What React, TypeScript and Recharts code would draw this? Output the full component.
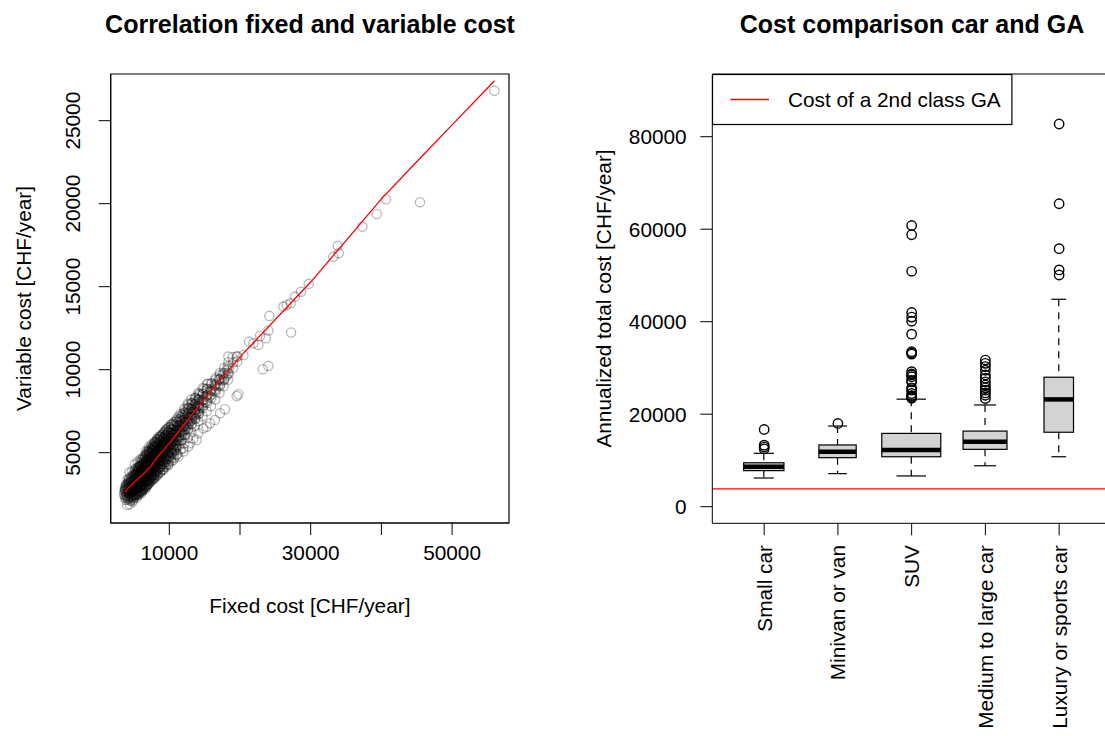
import React from 'react';
import {
  ScatterChart,
  ComposedChart,
  Scatter,
  Bar,
  XAxis,
  YAxis,
  ReferenceArea,
  ReferenceLine,
  Legend,
} from 'recharts';

const FONT = '"Liberation Sans", Arial, Helvetica, sans-serif';
const TEXT = 20.8;
const INK = '#000';

// fixed vs variable cost per car [CHF/year]: the dense cloud of ordinary cars
const coreCars: [number, number][] = [
  [3580, 2500], [3650, 2700], [3720, 2900],
  [3800, 2300], [3760, 2650], [3850, 2850], [3900, 3050],
  [4050, 1850], [3980, 2400], [4020, 2700], [4100, 3100],
  [4180, 2150], [4250, 2500], [4150, 2800], [4300, 3000], [4220, 3250],
  [4400, 1900], [4450, 2350], [4350, 2600], [4480, 2950], [4420, 3300],
  [4600, 2200], [4650, 2450], [4550, 2750], [4700, 3050], [4580, 3400],
  [4800, 2050], [4850, 2300], [4750, 2600], [4900, 2900], [4780, 3200], [4820, 3550],
  [5000, 2250], [5080, 2500], [4950, 2800], [5050, 3100], [4980, 3400], [5100, 3700],
  [5200, 2400], [5250, 2700], [5150, 2950], [5300, 3250], [5180, 3550], [5260, 3800],
  [5400, 2300], [5450, 2550], [5350, 2850], [5500, 3150], [5380, 3450], [5420, 3750], [5480, 3950],
  [5600, 2450], [5650, 2700], [5550, 3000], [5700, 3300], [5580, 3600], [5620, 3900], [5680, 4100],
  [5800, 2600], [5850, 2900], [5750, 3150], [5900, 3450], [5780, 3750], [5820, 4050], [5880, 4250],
  [6000, 2550], [6050, 2800], [5950, 3050], [6100, 3350], [5980, 3650], [6020, 3950], [6080, 4300],
  [6200, 2700], [6250, 2950], [6150, 3250], [6300, 3550], [6180, 3850], [6220, 4150], [6280, 4450],
  [6400, 2850], [6450, 3100], [6350, 3400], [6500, 3700], [6380, 4000], [6420, 4300], [6480, 4600],
  [6600, 2800], [6650, 3050], [6550, 3300], [6700, 3600], [6580, 3900], [6620, 4200], [6680, 4500], [6640, 4750],
  [6800, 2950], [6850, 3250], [6750, 3500], [6900, 3800], [6780, 4100], [6820, 4400], [6880, 4700], [6840, 4900],
  [7000, 3100], [7050, 3400], [6950, 3700], [7100, 4000], [6980, 4300], [7020, 4600], [7080, 4850], [7040, 5100],
  [7200, 3200], [7250, 3550], [7150, 3850], [7300, 4150], [7180, 4450], [7220, 4750], [7280, 5000],
  [7400, 3350], [7450, 3650], [7350, 3950], [7500, 4250], [7380, 4550], [7420, 4850], [7480, 5200],
  [7600, 3500], [7650, 3800], [7550, 4100], [7700, 4400], [7580, 4700], [7620, 5000], [7680, 5350],
  [7800, 3450], [7850, 3700], [7750, 4000], [7900, 4300], [7780, 4600], [7820, 4900], [7880, 5200], [7840, 5500],
  [8000, 3650], [8080, 3900], [7950, 4200], [8100, 4500], [7980, 4800], [8050, 5100], [8120, 5400], [8020, 5650],
  [8300, 3800], [8380, 4100], [8250, 4400], [8400, 4700], [8280, 5000], [8350, 5300], [8420, 5600], [8320, 5850],
  [8600, 4000], [8680, 4300], [8550, 4600], [8700, 4900], [8580, 5200], [8650, 5500], [8720, 5800], [8620, 6000],
  [8900, 4150], [8980, 4500], [8850, 4800], [9000, 5100], [8880, 5400], [8950, 5700], [9020, 6050],
  [9200, 4300], [9280, 4650], [9150, 5000], [9300, 5300], [9180, 5600], [9250, 5900], [9320, 6250],
  [9500, 4450], [9580, 4800], [9450, 5150], [9600, 5500], [9480, 5800], [9550, 6100], [9620, 6400],
  [9800, 4600], [9880, 5000], [9750, 5350], [9900, 5700], [9780, 6000], [9850, 6300],
  [10100, 4750], [10180, 5150], [10050, 5500], [10200, 5850], [10080, 6200], [10150, 6550],
  [10400, 4950], [10480, 5300], [10350, 5700], [10500, 6050], [10380, 6400], [10450, 6700],
  [10700, 5100], [10780, 5500], [10650, 5900], [10800, 6300], [10680, 6650],
  [11000, 5300], [11080, 5750], [10950, 6150], [11100, 6500], [10980, 6850],
];

// more ordinary cars, sitting between the ones above
const coreCarsMore: [number, number][] = [
  [3700, 2400], [3750, 2800], [3900, 2550], [3950, 2950], [4100, 2250], [4120, 2600], [4150, 2950],
  [4300, 2350], [4330, 2700], [4350, 3100], [4500, 2100], [4520, 2500], [4550, 2850], [4520, 3200],
  [4700, 2350], [4720, 2650], [4750, 2950], [4720, 3300], [4900, 2150], [4920, 2450], [4950, 2750],
  [4900, 3050], [4950, 3350], [5100, 2350], [5120, 2650], [5150, 2950], [5120, 3250], [5150, 3550],
  [5300, 2500], [5320, 2800], [5330, 3100], [5320, 3400], [5350, 3650], [5500, 2450], [5520, 2750],
  [5530, 3050], [5520, 3350], [5550, 3650], [5550, 3900], [5700, 2550], [5720, 2850], [5730, 3150],
  [5720, 3450], [5750, 3750], [5750, 4000], [5900, 2700], [5920, 3000], [5930, 3300], [5920, 3600],
  [5950, 3900], [5950, 4150], [6100, 2650], [6120, 2950], [6130, 3250], [6120, 3550], [6150, 3850],
  [6150, 4100], [6300, 2800], [6320, 3100], [6330, 3400], [6320, 3700], [6350, 4000], [6350, 4300],
  [6500, 2950], [6520, 3250], [6530, 3550], [6520, 3850], [6550, 4150], [6550, 4450], [6700, 3000],
  [6720, 3300], [6730, 3600], [6720, 3900], [6750, 4200], [6750, 4550], [6900, 3100], [6920, 3400],
  [6930, 3700], [6920, 4000], [6950, 4300], [6950, 4650], [7100, 3300], [7120, 3600], [7130, 3900],
  [7120, 4200], [7150, 4500], [7150, 4800], [7300, 3400], [7320, 3700], [7330, 4000], [7320, 4300],
  [7350, 4600], [7350, 4950], [7500, 3550], [7520, 3850], [7530, 4150], [7520, 4450], [7550, 4750],
  [7550, 5100], [7700, 3650], [7720, 3950], [7730, 4250], [7720, 4550], [7750, 4850], [7750, 5250],
  [7900, 3800], [7920, 4100], [7930, 4400], [7920, 4700], [7950, 5000], [7950, 5400], [8150, 3900],
  [8170, 4250], [8180, 4600], [8170, 4950], [8200, 5250], [8200, 5600], [8450, 4050], [8470, 4400],
  [8480, 4750], [8470, 5100], [8500, 5400], [8500, 5750], [8750, 4200], [8770, 4550], [8780, 4900],
  [8770, 5250], [8800, 5600], [8800, 5950], [9050, 4400], [9070, 4750], [9080, 5100], [9070, 5450],
  [9100, 5800], [9350, 4600], [9370, 4950], [9380, 5300], [9370, 5650], [9400, 6000], [9650, 4800],
  [9670, 5150], [9680, 5500], [9670, 5850], [9700, 6200], [9950, 5000], [9970, 5350], [9980, 5700],
  [9970, 6050], [10250, 5150], [10270, 5500], [10280, 5850], [10270, 6200], [10550, 5350], [10570, 5700],
  [10580, 6050], [10570, 6400], [10850, 5550], [10870, 5900], [10880, 6250], [11200, 5800], [11220, 6200],
  [11250, 6600], [11600, 6050], [11620, 6450], [11650, 6850], [12000, 6300], [12020, 6700], [12050, 7050],
  [12450, 6600], [12480, 7000], [12500, 7350], [12950, 6900], [12980, 7300], [13000, 7650], [13450, 7200],
  [13480, 7550], [13500, 7900], [13950, 7450], [13980, 7800], [14000, 8150], [14500, 7750], [14550, 8100],
  [14600, 8450], [15100, 8050], [15150, 8400], [15200, 8750], [15700, 8400], [15750, 8750], [16300, 8750],
  [16350, 9100], [16900, 9050], [16950, 9400], [17500, 9350], [17550, 9700], [18100, 9650], [18150, 10000],
];

// cars with a relatively high variable share, the upper half of the cloud
const highUseCars: [number, number][] = [
  [4300, 2600], [4340, 3000], [4280, 3400], [4360, 3800],
  [4700, 2700], [4740, 3100], [4680, 3500], [4760, 3900],
  [5100, 2800], [5140, 3200], [5080, 3600], [5160, 4000], [5120, 4300],
  [5500, 2900], [5540, 3300], [5480, 3700], [5560, 4100], [5520, 4450],
  [5900, 3000], [5940, 3400], [5880, 3800], [5960, 4200], [5920, 4600],
  [6300, 3100], [6340, 3500], [6280, 3900], [6360, 4300], [6320, 4750],
  [6700, 3200], [6740, 3600], [6680, 4000], [6760, 4400], [6720, 4900], [6690, 5100],
  [7100, 3300], [7140, 3700], [7080, 4150], [7160, 4600], [7120, 5050], [7090, 5350],
  [7500, 3400], [7540, 3850], [7480, 4300], [7560, 4750], [7520, 5200], [7490, 5500],
  [7900, 3550], [7940, 4000], [7880, 4450], [7960, 4900], [7920, 5350], [7890, 5650],
  [8300, 3650], [8340, 4150], [8280, 4600], [8360, 5050], [8320, 5500], [8290, 5800],
  [8700, 3800], [8740, 4300], [8680, 4750], [8760, 5200], [8720, 5650], [8690, 5950],
  [9100, 4000], [9140, 4500], [9080, 4950], [9160, 5400], [9120, 5850], [9090, 6150],
  [9500, 4150], [9540, 4650], [9480, 5100], [9560, 5550], [9520, 6000], [9490, 6350],
  [9900, 4300], [9940, 4800], [9880, 5300], [9960, 5750], [9920, 6200], [9890, 6550],
  [10300, 4500], [10340, 5000], [10280, 5500], [10360, 5950], [10320, 6400], [10290, 6700],
  [10700, 4700], [10740, 5200], [10680, 5700], [10760, 6150], [10720, 6600], [10690, 6850],
  [11100, 4900], [11140, 5450], [11080, 5950], [11160, 6400], [11120, 6800], [11090, 7050],
  [11600, 5200], [11640, 5750], [11580, 6250], [11660, 6700], [11620, 7100], [11590, 7350],
  [12100, 5550], [12140, 6100], [12080, 6550], [12160, 7000], [12120, 7400], [12090, 7650],
  [12600, 5900], [12640, 6400], [12580, 6850], [12660, 7300], [12620, 7700], [12590, 7950],
  [13100, 6250], [13140, 6700], [13080, 7150], [13160, 7600], [13120, 8000], [13090, 8200],
  [13600, 6600], [13640, 7050], [13580, 7450], [13660, 7900], [13620, 8300],
  [14100, 6900], [14140, 7350], [14080, 7800], [14160, 8200], [14120, 8600],
  [14700, 7200], [14740, 7700], [14680, 8150], [14760, 8550], [14720, 8900],
  [15300, 7500], [15340, 8000], [15280, 8450], [15360, 8850], [15320, 9150],
  [15900, 7800], [15940, 8300], [15880, 8750], [15960, 9150],
  [16500, 8200], [16540, 8650], [16480, 9050], [16560, 9400],
  [17100, 8600], [17140, 9000], [17080, 9400], [17160, 9700],
  [17700, 9000], [17740, 9400], [17680, 9800],
  [18300, 9400], [18340, 9800], [18280, 10200],
];

// everyday commuter cars, packed into the centre of the cloud
const commuterCars: [number, number][] = [
  [3850, 2150], [3880, 2450], [3830, 2750], [3870, 3050],
  [4100, 2250], [4130, 2550], [4070, 2850], [4120, 3150], [4090, 3400],
  [4350, 2250], [4380, 2550], [4320, 2850], [4370, 3150], [4340, 3450],
  [4600, 2350], [4630, 2650], [4570, 2950], [4620, 3250], [4590, 3550],
  [4850, 2450], [4880, 2750], [4820, 3050], [4870, 3350], [4840, 3650],
  [5100, 2450], [5130, 2750], [5070, 3050], [5120, 3350], [5090, 3650], [5110, 3900],
  [5350, 2550], [5380, 2850], [5320, 3150], [5370, 3450], [5340, 3750], [5360, 4050],
  [5600, 2600], [5630, 2900], [5570, 3200], [5620, 3500], [5590, 3800], [5610, 4150],
  [5850, 2650], [5880, 2950], [5820, 3250], [5870, 3550], [5840, 3850], [5860, 4200], [5830, 4400],
  [6100, 2750], [6130, 3050], [6070, 3350], [6120, 3650], [6090, 3950], [6110, 4250], [6080, 4550],
  [6350, 2850], [6380, 3150], [6320, 3450], [6370, 3750], [6340, 4050], [6360, 4350], [6330, 4650],
  [6600, 2950], [6630, 3250], [6570, 3550], [6620, 3850], [6590, 4150], [6610, 4450], [6580, 4800],
  [6850, 3050], [6880, 3350], [6820, 3650], [6870, 3950], [6840, 4250], [6860, 4550], [6830, 4850], [6870, 5050],
  [7100, 3150], [7130, 3450], [7070, 3750], [7120, 4050], [7090, 4350], [7110, 4650], [7080, 4950], [7120, 5200],
  [7350, 3250], [7380, 3550], [7320, 3850], [7370, 4150], [7340, 4450], [7360, 4750], [7330, 5050], [7370, 5300],
  [7600, 3350], [7630, 3650], [7570, 3950], [7620, 4250], [7590, 4550], [7610, 4850], [7580, 5150], [7620, 5400],
  [7850, 3450], [7880, 3750], [7820, 4050], [7870, 4350], [7840, 4650], [7860, 4950], [7830, 5250], [7870, 5550],
  [8100, 3550], [8130, 3850], [8070, 4150], [8120, 4450], [8090, 4750], [8110, 5050], [8080, 5350], [8120, 5650],
  [8400, 3700], [8430, 4000], [8370, 4300], [8420, 4600], [8390, 4900], [8410, 5200], [8380, 5500], [8420, 5800],
  [8700, 3850], [8730, 4150], [8670, 4450], [8720, 4750], [8690, 5050], [8710, 5350], [8680, 5650], [8720, 5950],
  [9000, 4000], [9030, 4300], [8970, 4600], [9020, 4900], [8990, 5200], [9010, 5500], [8980, 5800], [9020, 6100],
  [9300, 4150], [9330, 4450], [9270, 4750], [9320, 5050], [9290, 5350], [9310, 5650], [9280, 5950], [9320, 6250],
  [9600, 4300], [9630, 4600], [9570, 4900], [9620, 5200], [9590, 5500], [9610, 5800], [9580, 6100], [9620, 6400],
  [9900, 4450], [9930, 4750], [9870, 5050], [9920, 5350], [9890, 5650], [9910, 5950], [9880, 6250], [9920, 6500],
  [10250, 4650], [10280, 4950], [10220, 5250], [10270, 5550], [10240, 5850], [10260, 6150], [10230, 6450], [10270, 6700],
  [10600, 4900], [10630, 5200], [10570, 5500], [10620, 5800], [10590, 6100], [10610, 6400], [10580, 6750],
  [11000, 5150], [11030, 5450], [10970, 5750], [11020, 6050], [10990, 6350], [11010, 6650], [10980, 6950],
  [11400, 5450], [11430, 5750], [11370, 6050], [11420, 6350], [11390, 6650], [11410, 6950], [11380, 7200],
  [11800, 5750], [11830, 6050], [11770, 6350], [11820, 6650], [11790, 6950], [11810, 7300],
  [12250, 6100], [12280, 6400], [12220, 6700], [12270, 7000], [12240, 7300], [12260, 7600],
  [12700, 6450], [12730, 6750], [12670, 7050], [12720, 7350], [12690, 7650], [12710, 7900],
  [13200, 6750], [13230, 7050], [13170, 7350], [13220, 7650], [13190, 7950],
  [13700, 7050], [13730, 7350], [13670, 7650], [13720, 7950], [13690, 8300],
  [14200, 7350], [14230, 7650], [14170, 7950], [14220, 8250], [14190, 8550],
];

// band following the smoother above the cloud
const upperBand: [number, number][] = [
  [11400, 5900], [11450, 6300], [11350, 6650], [11500, 7000],
  [11800, 6150], [11850, 6550], [11750, 6900], [11900, 7250],
  [12200, 6400], [12250, 6800], [12150, 7150], [12300, 7450],
  [12700, 6700], [12750, 7050], [12650, 7400], [12800, 7700],
  [13200, 6950], [13250, 7300], [13150, 7650], [13300, 8000],
  [13700, 7250], [13750, 7600], [13650, 7950], [13800, 8250],
  [14200, 7500], [14250, 7850], [14150, 8200], [14300, 8500],
  [14800, 7850], [14850, 8200], [14750, 8550], [14900, 8850],
  [15400, 8150], [15450, 8500], [15350, 8850], [15500, 9150],
  [16000, 8500], [16050, 8850], [15950, 9200],
  [16600, 8800], [16650, 9150], [16550, 9500],
  [17200, 9100], [17250, 9450], [17150, 9800],
  [17800, 9450], [17850, 9800], [17750, 10100],
  [18400, 9750], [18450, 10100], [18350, 10450],
  [19000, 10100], [19050, 10450], [18950, 10750],
  [19600, 10500], [19650, 10800],
];

// second, flatter branch below the smoother
const lowerBand: [number, number][] = [
  [17880, 7620], [17170, 7380], [16470, 6970], [15760, 6770], [14820, 6470],
  [14110, 6170], [13400, 5870], [12700, 5370], [11990, 5070], [11280, 4770],
  [10570, 4560], [9870, 4260], [9160, 3960], [15290, 6570], [13870, 5770],
  [12930, 5570], [11990, 5270], [11050, 4870],
];

// expensive cars, spread out along the upper part
const farCars: [number, number][] = [
  [55980, 26810], [45460, 20090], [40660, 20270], [39340, 19380], [37310, 18620],
  [33820, 17460], [33960, 17010], [33200, 16810], [29720, 15170], [28630, 14700],
  [27780, 14400], [27170, 14000], [26130, 13800], [26600, 13900], [24150, 13240],
  [27220, 12240], [24010, 12360], [23680, 11890], [22830, 12030], [21280, 11690],
  [21890, 11590], [22600, 11490], [23210, 10030], [24010, 10230], [19530, 8420],
  [19770, 8520], [20480, 10890], [19530, 10790], [18350, 10790],
];

// lowess smoother of variable on fixed cost
const lowessFit: [number, number][] = [
  [3700, 2640], [5000, 3200], [6300, 3720], [7300, 4150], [8500, 4830],
  [10000, 5560], [12000, 6640], [14500, 8000], [17000, 9280], [20500, 11000],
  [25000, 13020], [30000, 15280], [35000, 17780], [40000, 20290], [45000, 22530],
  [50000, 24750], [56000, 27410],
];

const fixedTicks = [10000, 20000, 30000, 40000, 50000];
const fixedTickLabels = ['10000', '', '30000', '', '50000'];
const variableTicks = [5000, 10000, 15000, 20000, 25000];

// annualized total cost by car class [CHF/year]
const carClasses = ['Small car', 'Minivan or van', 'SUV', 'Medium to large car', 'Luxury or sports car'];
const whiskerLow = [6200, 7150, 6650, 8850, 10800];
const quartile1 = [7800, 10600, 10800, 12400, 16100];
const medians = [8650, 11900, 12250, 14050, 23200];
const quartile3 = [9500, 13350, 15850, 16350, 28000];
const whiskerHigh = [11550, 17450, 23250, 22000, 44850];
const sampleSizes = [420, 360, 900, 500, 225];
const outliers: number[][] = [
  [16700, 13300, 12900, 12500],
  [18000],
  [60800, 58800, 50900, 42000, 41000, 40100, 37300, 33500, 33200, 33000, 29200, 28700,
    28500, 28100, 27300, 27000, 25700, 25200, 24500, 24000, 23900, 23600, 23450],
  [31700, 31000, 30300, 29500, 28500, 27800, 27000, 26300, 25700, 25200, 24600, 24100, 23400],
  [82750, 65500, 55800, 51200, 50100],
];
const totalTicks = [0, 20000, 40000, 60000, 80000];
const gaPrice = 3860;

const fixedDomain: [number, number] = [1711, 58048];
const variableDomain: [number, number] = [765, 27813];
const totalDomain: [number, number] = [-3590, 93560];

const cloud = [
  ...coreCars,
  ...coreCarsMore,
  ...highUseCars,
  ...commuterCars,
  ...upperBand,
  ...lowerBand,
  ...farCars,
].map(([x, y]) => ({ x, y }));
const lowess = lowessFit.map(([x, y]) => ({ x, y }));

const boxRows = carClasses.map((name, i) => ({
  name,
  lo: whiskerLow[i],
  q1: quartile1[i],
  med: medians[i],
  q3: quartile3[i],
  hi: whiskerHigh[i],
  n: sampleSizes[i],
}));
const outlierRows = carClasses.flatMap((name, i) => outliers[i].map((value) => ({ name, value })));
const maxN = Math.max(...sampleSizes);

const textProps = { fontFamily: FONT, fontSize: TEXT, fill: INK };

function Ring({ cx, cy }: any) {
  return <circle cx={cx} cy={cy} r={4.6} fill="none" stroke={INK} strokeOpacity={0.27} strokeWidth={1.4} />;
}

function OpenDot({ cx, cy }: any) {
  return <circle cx={cx} cy={cy} r={4.7} fill="none" stroke={INK} strokeWidth={1.4} />;
}

function NoDot() {
  return <g />;
}

// whole box-and-whisker glyph drawn from the whisker-to-whisker bar
function BoxWhisker(props: any) {
  const { x, y, width, height, payload } = props;
  const { lo, q1, med, q3, hi, n } = payload;
  const toY = (v: number) => y + ((hi - v) / (hi - lo)) * height;
  const cx = x + width / 2;
  const half = (width * Math.sqrt(n / maxN)) / 2;
  const cap = half / 2;
  return (
    <g>
      <line x1={cx} x2={cx} y1={toY(hi)} y2={toY(q3)} stroke={INK} strokeWidth={1.2} strokeDasharray="7 6" />
      <line x1={cx} x2={cx} y1={toY(q1)} y2={toY(lo)} stroke={INK} strokeWidth={1.2} strokeDasharray="7 6" />
      <line x1={cx - cap} x2={cx + cap} y1={toY(hi)} y2={toY(hi)} stroke={INK} strokeWidth={1.2} />
      <line x1={cx - cap} x2={cx + cap} y1={toY(lo)} y2={toY(lo)} stroke={INK} strokeWidth={1.2} />
      <rect x={cx - half} y={toY(q3)} width={half * 2} height={toY(q1) - toY(q3)} fill="#d3d3d3" stroke={INK} strokeWidth={1.2} />
      <line x1={cx - half} x2={cx + half} y1={toY(med)} y2={toY(med)} stroke={INK} strokeWidth={4.5} />
    </g>
  );
}

const FixedTick = ({ x, payload }: any) => (
  <text x={x} y={560} textAnchor="middle" {...textProps}>
    {fixedTickLabels[fixedTicks.indexOf(payload.value)]}
  </text>
);

const VariableTick = ({ y, payload }: any) => (
  <text x={80} y={y} transform={`rotate(-90 80 ${y})`} textAnchor="middle" {...textProps}>
    {payload.value}
  </text>
);

const TotalTick = ({ y, payload }: any) => (
  <text x={126.7} y={y + 7.4} textAnchor="end" {...textProps}>
    {payload.value}
  </text>
);

const ClassTick = ({ x, payload }: any) => (
  <text x={x + 7.5} y={545} transform={`rotate(-90 ${x + 7.5} 545)`} textAnchor="end" {...textProps}>
    {payload.value}
  </text>
);

function GaLegend() {
  return (
    <svg width={301} height={52} style={{ display: 'block' }}>
      <rect x={0.5} y={0.5} width={299.4} height={50} fill="#fff" stroke={INK} strokeWidth={1.2} />
      <line x1={18.4} x2={57} y1={25.5} y2={25.5} stroke="#ff0000" strokeWidth={1.3} />
      <text x={76} y={32.7} {...textProps}>Cost of a 2nd class GA</text>
    </svg>
  );
}

export default function App() {
  return (
    <div
      style={{
        position: 'absolute',
        left: 0,
        top: 0,
        width: 1105,
        height: 736,
        overflow: 'hidden',
        background: '#fff',
        fontFamily: FONT,
      }}
    >
      <svg width={1105} height={50} style={{ position: 'absolute', left: 0, top: 0 }}>
        <text x={310} y={33} textAnchor="middle" fontFamily={FONT} fontSize={25} fontWeight="bold" fill={INK}>
          Correlation fixed and variable cost
        </text>
        <text x={912} y={33} textAnchor="middle" fontFamily={FONT} fontSize={25} fontWeight="bold" fill={INK}>
          Cost comparison car and GA
        </text>
      </svg>

      <div style={{ position: 'absolute', left: 0, top: 0 }}>
        <ScatterChart width={560} height={736} margin={{ top: 74, right: 51, bottom: 153, left: 50.7 }}>
          <XAxis
            type="number"
            dataKey="x"
            domain={fixedDomain}
            allowDataOverflow
            ticks={fixedTicks}
            interval={0}
            height={60}
            tickSize={12}
            axisLine={{ stroke: INK }}
            tickLine={{ stroke: INK }}
            tick={(p: any) => <FixedTick {...p} />}
            label={{
              content: () => (
                <text x={309.9} y={613} textAnchor="middle" {...textProps}>
                  Fixed cost [CHF/year]
                </text>
              ),
            }}
          />
          <YAxis
            type="number"
            dataKey="y"
            domain={variableDomain}
            allowDataOverflow
            ticks={variableTicks}
            interval={0}
            width={60}
            tickSize={12}
            axisLine={{ stroke: INK }}
            tickLine={{ stroke: INK }}
            tick={(p: any) => <VariableTick {...p} />}
            label={{
              content: () => (
                <text x={31} y={298.5} transform="rotate(-90 31 298.5)" textAnchor="middle" {...textProps}>
                  Variable cost [CHF/year]
                </text>
              ),
            }}
          />
          <ReferenceArea
            x1={fixedDomain[0]}
            x2={fixedDomain[1]}
            y1={variableDomain[0]}
            y2={variableDomain[1]}
            fill="none"
            fillOpacity={0}
            stroke={INK}
            strokeWidth={1.2}
            ifOverflow="visible"
          />
          <Scatter data={cloud} shape={Ring} isAnimationActive={false} />
          <Scatter
            data={lowess}
            shape={NoDot}
            line={{ stroke: '#ff0000', strokeWidth: 1.3 }}
            isAnimationActive={false}
          />
        </ScatterChart>
      </div>

      <div style={{ position: 'absolute', left: 560, top: 0 }}>
        <ComposedChart
          width={560}
          height={736}
          data={boxRows}
          margin={{ top: 74, right: 9, bottom: 152.7, left: 92.3 }}
        >
          <XAxis
            dataKey="name"
            type="category"
            allowDuplicatedCategory={false}
            padding={{ left: 15, right: 15 }}
            interval={0}
            height={60}
            tickSize={12}
            axisLine={{ stroke: INK }}
            tickLine={{ stroke: INK }}
            tick={(p: any) => <ClassTick {...p} />}
          />
          <YAxis
            type="number"
            domain={totalDomain}
            allowDataOverflow
            ticks={totalTicks}
            interval={0}
            width={60}
            tickSize={12}
            axisLine={{ stroke: INK }}
            tickLine={{ stroke: INK }}
            tick={(p: any) => <TotalTick {...p} />}
            label={{
              content: () => (
                <text x={51} y={298.5} transform="rotate(-90 51 298.5)" textAnchor="middle" {...textProps}>
                  Annualized total cost [CHF/year]
                </text>
              ),
            }}
          />
          <ReferenceLine y={totalDomain[1]} stroke={INK} strokeWidth={1.2} ifOverflow="visible" />
          <ReferenceLine y={gaPrice} stroke="#ff0000" strokeWidth={1.3} />
          <Bar
            dataKey={(r: any) => [r.lo, r.hi]}
            barSize={59}
            shape={(p: any) => <BoxWhisker {...p} />}
            isAnimationActive={false}
          />
          <Scatter data={outlierRows} dataKey="value" shape={OpenDot} isAnimationActive={false} />
          <Legend
            layout="vertical"
            align="center"
            verticalAlign="middle"
            wrapperStyle={{ left: 152, top: 73.5, width: 301, height: 52 }}
            content={() => <GaLegend />}
          />
        </ComposedChart>
      </div>
    </div>
  );
}
